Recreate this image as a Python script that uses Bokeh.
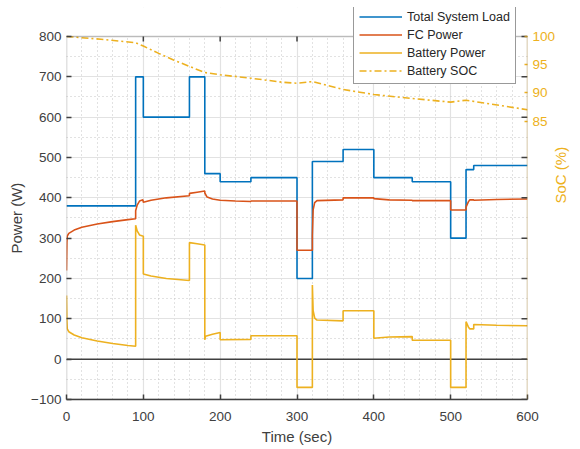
import math
from bokeh.plotting import figure
from bokeh.models import (LinearAxis, Range1d, SingleIntervalTicker, FixedTicker,
                          Span, Legend, LegendItem, BoxAnnotation)
from bokeh.embed import file_html
from bokeh.resources import INLINE

# ---------------- data ----------------
t_load = [0, 90, 90, 100, 100, 160, 160, 180, 180, 200, 200, 240, 240, 300, 300, 320,
          320, 360, 360, 400, 400, 450, 450, 500, 500, 520, 520, 530, 530, 600]
load = [380, 380, 700, 700, 600, 600, 700, 700, 460, 460, 440, 440, 450, 450, 200, 200,
        490, 490, 520, 520, 450, 450, 440, 440, 300, 300, 470, 470, 480, 480]

t_fc = [0, 0.5, 1, 3, 10, 20, 40, 60, 80, 90, 90, 92, 95, 99.5, 100, 110, 130, 160, 160,
        170, 180, 180, 183, 190, 200, 220, 240, 240, 300, 300, 320, 320, 321, 323, 326,
        360, 360, 400, 400, 420, 450, 450, 500, 500, 520, 520, 523, 525, 530, 530, 560, 600]
fc = [220, 290, 305, 312, 320, 327, 335, 341, 346, 348, 368, 382, 392, 395, 389, 394, 400,
      405, 411, 414, 417, 412, 402, 397, 394, 392, 391, 392, 392, 270, 270, 306, 370, 388,
      393, 395, 400, 400, 398, 395, 394, 393, 393, 370, 370, 377, 390, 395, 395, 394, 396, 397]

t_bat = [0, 0.5, 1, 3, 10, 20, 40, 60, 80, 90, 90, 92, 95, 100, 100, 110, 130, 160, 160,
         170, 180, 180, 181, 190, 200, 200, 240, 240, 300, 300, 320, 320, 321, 323, 326,
         360, 360, 400, 400, 420, 450, 450, 500, 500, 520, 520, 523, 525, 530, 530, 560, 600]
battery = [158, 95, 75, 68, 60, 53, 45, 39, 34, 32, 332, 318, 308, 305, 211, 206, 200,
           195, 289, 286, 283, 48, 57, 62, 66, 48, 49, 58, 58, -70, -70, 184, 120, 102,
           97, 95, 120, 120, 52, 55, 56, 47, 47, -70, -70, 93, 80, 75, 75, 86, 84, 83]

t_soc = [0, 45, 90, 100, 120, 140, 160, 180, 200, 240, 280, 300, 320, 360, 400, 450, 500, 520, 600]
soc = [100, 99.5, 98.9, 98.3, 97.0, 95.8, 94.7, 93.6, 93.2, 92.6, 91.9, 91.7, 92.0, 90.6,
       89.7, 89.0, 88.35, 88.7, 87.0]

soc_ticks = [85, 90, 95, 100]
top_tick_x = [100, 200, 300, 400, 500]
right_tick_y = [-100, 0, 100, 200, 300, 400, 500, 600, 700, 800]

# ---------------- style ----------------
FONT = "Liberation Sans"
AX = "#404040"
BLUE = "#0072BD"
RED = "#D95319"
YEL = "#EDB120"
PAD = "\u00a0" * 7      # shifts the left axis title down to the centre of the axes box

X0, X1 = 0, 600
Y0, Y1 = -100, 800
Y_TOP = 871.9          # frame extends above 800 so the legend can sit above the axes box
S0, S1, S_TOP = 35.6, 100, 105.14

p = figure(width=580, height=449, output_backend="svg", toolbar_location=None, title=None,
           x_range=Range1d(X0, X1), y_range=Range1d(Y0, Y_TOP),
           min_border_left=66, min_border_right=52, min_border_top=7, min_border_bottom=50,
           background_fill_color="white", border_fill_color="white")
p.extra_y_ranges = {"soc": Range1d(S0, S_TOP)}
p.outline_line_color = None

xt = SingleIntervalTicker(interval=100, num_minor_ticks=5)
yt = SingleIntervalTicker(interval=100, num_minor_ticks=2)
p.xaxis.ticker = xt
p.yaxis.ticker = yt
p.xgrid.ticker = xt
p.ygrid.ticker = yt
for g in (p.xgrid[0], p.ygrid[0]):
    g.grid_line_color = "#e2e2e2"
    g.grid_line_width = 1.2
    g.minor_grid_line_color = "#c4c4c4"
    g.minor_grid_line_dash = "1 3"
    g.minor_grid_line_width = 1

# white area above the axes box (hides grid there)
p.add_layout(BoxAnnotation(bottom=Y1, fill_color="white", fill_alpha=1.0, line_alpha=0,
                           level="underlay"))

for ax in (p.xaxis[0], p.yaxis[0]):
    ax.axis_line_color = AX
    ax.axis_line_width = 1.5
    ax.major_tick_line_color = AX
    ax.major_tick_line_width = 1.5
    ax.major_tick_in = 5
    ax.major_tick_out = 0
    ax.minor_tick_line_color = None
    ax.major_label_text_font = FONT
    ax.major_label_text_font_size = "13.5px"
    ax.major_label_text_color = AX
    ax.axis_label_text_font = FONT
    ax.axis_label_text_font_size = "15px"
    ax.axis_label_text_color = AX
    ax.axis_label_text_font_style = "normal"

p.yaxis.axis_line_color = None
p.yaxis.bounds = (Y0, Y1)
p.xaxis.axis_label = "Time (sec)"
p.xaxis.major_label_standoff = 8
p.xaxis.axis_label_standoff = 4
p.yaxis.axis_label = "Power (W)" + PAD
p.yaxis.major_label_standoff = 1
p.yaxis.axis_label_standoff = 3

ra = LinearAxis(y_range_name="soc", ticker=FixedTicker(ticks=soc_ticks),
                axis_label="SoC (%)", bounds=(S0, S1))
ra.axis_line_color = None
ra.major_tick_line_color = YEL
ra.major_tick_line_width = 1.5
ra.major_tick_in = 3
ra.major_tick_out = 0
ra.minor_tick_line_color = None
ra.major_label_text_font = FONT
ra.major_label_text_font_size = "13.5px"
ra.major_label_text_color = YEL
ra.major_label_standoff = 5
ra.axis_label_text_font = FONT
ra.axis_label_text_font_size = "15px"
ra.axis_label_text_color = YEL
ra.axis_label_text_font_style = "normal"
ra.axis_label_standoff = 2
ra.axis_label_orientation = -3 * math.pi / 2
ra.axis_label_text_baseline = "middle"
p.add_layout(ra, "right")

p.add_layout(Span(location=0, dimension="width", line_color=AX, line_width=1.5,
                  level="underlay"))

r_load = p.line(t_load, load, line_color=BLUE, line_width=1.6)
r_fc = p.line(t_fc, fc, line_color=RED, line_width=1.6)
r_bat = p.line(t_bat, battery, line_color=YEL, line_width=1.6)
r_soc = p.line(t_soc, soc, y_range_name="soc", line_color=YEL, line_width=1.6,
               line_dash="7 3 2 3")

# axes box
p.add_layout(BoxAnnotation(left=X0, right=X1, bottom=Y0, top=Y1, fill_alpha=0,
                           line_color=AX, line_width=1.5))
p.add_layout(BoxAnnotation(left=X1, right=X1, bottom=Y0, top=Y1, fill_alpha=0,
                           line_color=YEL, line_width=1.5))
p.ray(x=top_tick_x, y=Y1, length=5, length_units="screen", angle=-math.pi / 2,
      line_color=AX, line_width=1.5)
p.ray(x=X1, y=right_tick_y, length=6, length_units="screen", angle=math.pi,
      line_color=AX, line_width=1.5)

legend = Legend(items=[LegendItem(label="Total System Load", renderers=[r_load]),
                       LegendItem(label="FC Power", renderers=[r_fc]),
                       LegendItem(label="Battery Power", renderers=[r_bat]),
                       LegendItem(label="Battery SOC", renderers=[r_soc])],
                location=(287, 315), padding=5, spacing=3, glyph_width=43, glyph_height=15,
                label_height=15, label_standoff=5, label_text_font=FONT,
                label_text_font_size="12.5px", label_text_color="#262626",
                border_line_color="#333333", border_line_width=1.2,
                background_fill_color="white", background_fill_alpha=1)
p.add_layout(legend)

open("out.html", "w").write(file_html(p, INLINE))
